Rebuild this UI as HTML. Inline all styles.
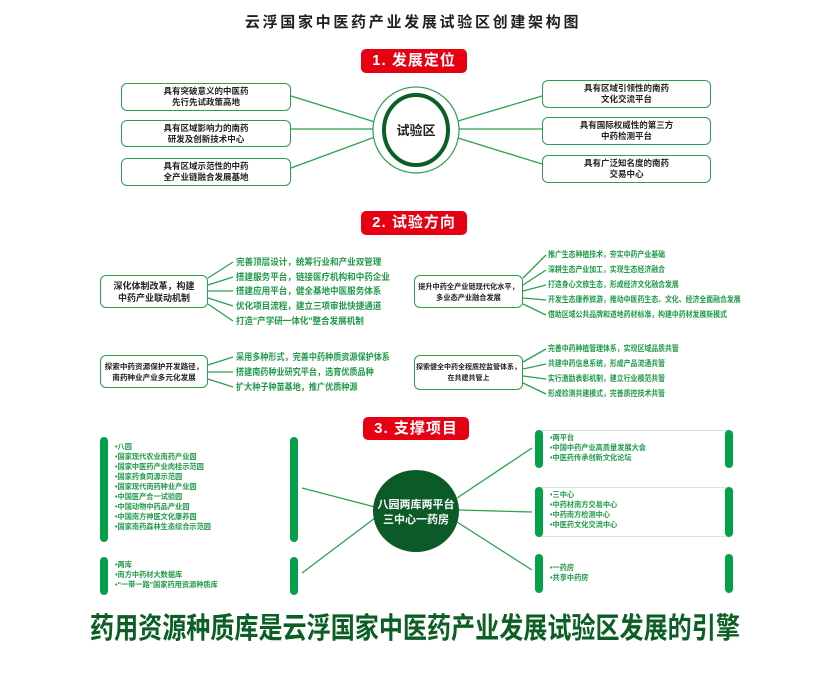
<!DOCTYPE html>
<html><head><meta charset="utf-8"><style>
*{margin:0;padding:0;box-sizing:border-box}
body{width:822px;height:674px;background:#fff;position:relative;overflow:hidden;font-family:"Liberation Sans","Noto Sans CJK SC",sans-serif}
.a{position:absolute}
.red{position:absolute;background:#e60012;color:#fff;font-weight:bold;font-size:15px;border-radius:5px;text-align:center;line-height:24px;width:106px;height:24px;letter-spacing:1px}
.box{position:absolute;border:1.6px solid #2aa14e;border-radius:6px;background:#fff;color:#222;font-weight:bold;font-size:8.5px;text-align:center;display:flex;align-items:center;justify-content:center;line-height:11px;white-space:nowrap}
.it{position:absolute;color:#1f9a48;font-weight:bold;font-size:9px;white-space:nowrap;line-height:10px;transform:scaleX(0.95);transform-origin:0 0}
.sm{font-size:8px;transform:scaleX(0.86)}
.li{position:absolute;color:#1f9a48;font-weight:bold;font-size:7.2px;white-space:nowrap;line-height:10px}
.bar{position:absolute;background:#05a04a;border-radius:4px;width:8px}
</style></head><body>
<div class="a" style="left:243px;top:11px;width:340px;text-align:center;font-size:15px;font-weight:bold;color:#231f20;letter-spacing:2.7px;white-space:nowrap">云浮国家中医药产业发展试验区创建架构图</div>

<svg class="a" style="left:0;top:0" width="822" height="674">
<g stroke="#2aa14e" stroke-width="1.3" fill="none">
<line x1="291" y1="96" x2="375" y2="122"/><line x1="291" y1="129" x2="374" y2="129"/><line x1="291" y1="168" x2="375" y2="137"/>
<line x1="458" y1="121" x2="542" y2="96"/><line x1="459" y1="129" x2="542" y2="129"/><line x1="458" y1="138" x2="542" y2="164"/>
<line x1="208" y1="278" x2="233" y2="262"/><line x1="208" y1="285" x2="233" y2="277"/><line x1="208" y1="291" x2="233" y2="291"/><line x1="208" y1="298" x2="233" y2="306"/><line x1="208" y1="304" x2="233" y2="321"/>
<line x1="208" y1="365" x2="233" y2="357"/><line x1="208" y1="372" x2="233" y2="372"/><line x1="208" y1="379" x2="233" y2="387"/>
<line x1="523" y1="278" x2="546" y2="255"/><line x1="523" y1="285" x2="546" y2="270"/><line x1="523" y1="291" x2="546" y2="285"/><line x1="523" y1="298" x2="546" y2="300"/><line x1="523" y1="304" x2="546" y2="315"/>
<line x1="523" y1="362" x2="546" y2="349"/><line x1="523" y1="369" x2="546" y2="364"/><line x1="523" y1="376" x2="546" y2="379"/><line x1="523" y1="383" x2="546" y2="394"/>
<line x1="302" y1="488" x2="375" y2="507"/><line x1="302" y1="573" x2="375" y2="518"/>
<line x1="457" y1="498" x2="532" y2="448"/><line x1="459" y1="510" x2="532" y2="512"/><line x1="457" y1="522" x2="532" y2="570"/>
</g>
<ellipse cx="416" cy="130" rx="43" ry="43" fill="#fff" stroke="#2aa14e" stroke-width="1.2"/>
<ellipse cx="416" cy="130" rx="32" ry="35" fill="#fff" stroke="#0b5e24" stroke-width="4"/>
<text x="416" y="135" text-anchor="middle" font-size="13" font-weight="bold" fill="#222" font-family="Liberation Sans, Noto Sans CJK SC, sans-serif">试验区</text>
<ellipse cx="416" cy="511" rx="43" ry="41" fill="#0b5a28"/>
<text x="416" y="508" text-anchor="middle" font-size="11" font-weight="bold" fill="#fff" font-family="Liberation Sans, Noto Sans CJK SC, sans-serif">八园两库两平台</text>
<text x="416" y="523" text-anchor="middle" font-size="11" font-weight="bold" fill="#fff" font-family="Liberation Sans, Noto Sans CJK SC, sans-serif">三中心一药房</text>
<g stroke="#cfe8d6" stroke-width="1"><line x1="539" y1="430.5" x2="729" y2="430.5"/><line x1="539" y1="487.5" x2="729" y2="487.5"/><line x1="539" y1="536.5" x2="729" y2="536.5"/></g>
</svg>

<div class="red" style="left:361px;top:49px">1. 发展定位</div>
<div class="red" style="left:361px;top:211px">2. 试验方向</div>
<div class="red" style="left:363px;top:417px;height:23px;line-height:23px">3. 支撑项目</div>

<div class="box" style="left:121px;top:83px;width:170px;height:28px">具有突破意义的中医药<br>先行先试政策高地</div>
<div class="box" style="left:121px;top:120px;width:170px;height:27px">具有区域影响力的南药<br>研发及创新技术中心</div>
<div class="box" style="left:121px;top:158px;width:170px;height:28px">具有区域示范性的中药<br>全产业链融合发展基地</div>
<div class="box" style="left:542px;top:80px;width:169px;height:28px">具有区域引领性的南药<br>文化交流平台</div>
<div class="box" style="left:542px;top:117px;width:169px;height:28px">具有国际权威性的第三方<br>中药检测平台</div>
<div class="box" style="left:542px;top:155px;width:169px;height:28px">具有广泛知名度的南药<br>交易中心</div>

<div class="box" style="left:100px;top:275px;width:108px;height:33px;font-size:9px;line-height:12px">深化体制改革，构建<br>中药产业联动机制</div>
<div class="box" style="left:100px;top:355px;width:108px;height:33px;font-size:7.6px">探索中药资源保护开发路径，<br>南药种业产业多元化发展</div>
<div class="box" style="left:414px;top:275px;width:109px;height:33px;font-size:7.2px">提升中药全产业链现代化水平，<br>多业态产业融合发展</div>
<div class="box" style="left:414px;top:355px;width:109px;height:35px;font-size:7px">探索健全中药全程质控监管体系，<br>在共建共管上</div>

<div class="it" style="left:236px;top:257px">完善顶层设计，统筹行业和产业双管理</div>
<div class="it" style="left:236px;top:272px">搭建服务平台，链接医疗机构和中药企业</div>
<div class="it" style="left:236px;top:286px">搭建应用平台，健全基地中医服务体系</div>
<div class="it" style="left:236px;top:301px">优化项目流程，建立三项审批快捷通道</div>
<div class="it" style="left:236px;top:316px">打造"产学研一体化"整合发展机制</div>
<div class="it" style="left:236px;top:352px;transform:scaleX(0.9)">采用多种形式，完善中药种质资源保护体系</div>
<div class="it" style="left:236px;top:367px;transform:scaleX(0.9)">搭建南药种业研究平台，选育优质品种</div>
<div class="it" style="left:236px;top:382px;transform:scaleX(0.9)">扩大种子种苗基地，推广优质种源</div>

<div class="it sm" style="left:548px;top:250px">推广生态种植技术，夯实中药产业基础</div>
<div class="it sm" style="left:548px;top:265px">深耕生态产业加工，实现生态经济融合</div>
<div class="it sm" style="left:548px;top:280px">打造身心文旅生态，形成经济文化融合发展</div>
<div class="it sm" style="left:548px;top:295px">开发生态康养旅游，推动中医药生态、文化、经济全面融合发展</div>
<div class="it sm" style="left:548px;top:310px">借助区域公共品牌和道地药材标准，构建中药材发展新模式</div>
<div class="it sm" style="left:548px;top:344px">完善中药种植管理体系，实现区域品质共管</div>
<div class="it sm" style="left:548px;top:359px">共建中药信息系统，形成产品流通共管</div>
<div class="it sm" style="left:548px;top:374px">实行激励表彰机制，建立行业模范共管</div>
<div class="it sm" style="left:548px;top:389px">形成检测共建模式，完善质控技术共管</div>

<div class="bar" style="left:100px;top:437px;height:105px"></div>
<div class="bar" style="left:290px;top:437px;height:105px"></div>
<div class="bar" style="left:100px;top:557px;height:38px"></div>
<div class="bar" style="left:290px;top:557px;height:38px"></div>
<div class="bar" style="left:535px;top:430px;height:38px"></div>
<div class="bar" style="left:725px;top:430px;height:38px"></div>
<div class="bar" style="left:535px;top:487px;height:50px"></div>
<div class="bar" style="left:725px;top:487px;height:50px"></div>
<div class="bar" style="left:535px;top:554px;height:39px"></div>
<div class="bar" style="left:725px;top:554px;height:39px"></div>

<div class="li" style="left:115px;top:442px">•八园<br>•国家现代农业南药产业园<br>•国家中医药产业肉桂示范园<br>•国家药食同源示范园<br>•国家现代南药种业产业园<br>•中国医产合一试验园<br>•中国动物中药品产业园<br>•中国南方神医文化康养园<br>•国家南药森林生态综合示范园</div>
<div class="li" style="left:115px;top:560px">•两库<br>•南方中药材大数据库<br>•"一带一路"国家药用资源种质库</div>
<div class="li" style="left:550px;top:433px">•两平台<br>•中国中药产业高质量发展大会<br>•中医药传承创新文化论坛</div>
<div class="li" style="left:550px;top:490px">•三中心<br>•中药材南方交易中心<br>•中药南方检测中心<br>•中医药文化交流中心</div>
<div class="li" style="left:550px;top:563px">•一药房<br>•共享中药房</div>

<div class="a" style="left:90px;top:612px;width:760px;font-size:29px;line-height:34px;font-weight:bold;color:#0b5e24;white-space:nowrap;transform:scaleX(0.83);transform-origin:0 0">药用资源种质库是云浮国家中医药产业发展试验区发展的引擎</div>
</body></html>
